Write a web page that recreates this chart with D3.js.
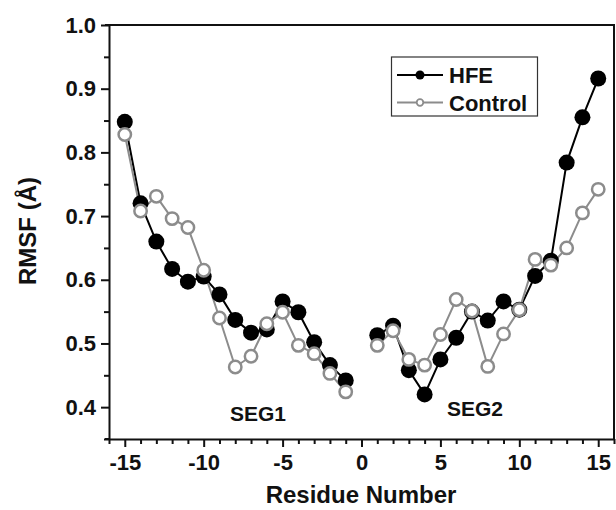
<!DOCTYPE html>
<html>
<head>
<meta charset="utf-8">
<script src="https://cdn.jsdelivr.net/npm/d3@7"></script>
<style>
  body { margin: 0; background: #fff; }
  text { font-family: "Liberation Sans", Arial, sans-serif; font-weight: bold; fill: #111; }
</style>
</head>
<body>
<svg width="616" height="510"></svg>
<script>
// residue numbers for the two segments (no residue 0)
var seg1Res = [-15, -14, -13, -12, -11, -10, -9, -8, -7, -6, -5, -4, -3, -2, -1];
var seg2Res = [1, 2, 3, 4, 5, 6, 7, 8, 9, 10, 11, 12, 13, 14, 15];

var hfeSeg1 = [0.848, 0.720, 0.660, 0.617, 0.597, 0.605, 0.577, 0.537, 0.517, 0.522, 0.566, 0.549, 0.502, 0.466, 0.442];
var hfeSeg2 = [0.513, 0.528, 0.458, 0.420, 0.475, 0.509, 0.550, 0.536, 0.566, 0.553, 0.606, 0.630, 0.784, 0.855, 0.916];

var ctlSeg1 = [0.828, 0.708, 0.731, 0.696, 0.682, 0.615, 0.540, 0.463, 0.480, 0.531, 0.549, 0.497, 0.484, 0.453, 0.424];
var ctlSeg2 = [0.497, 0.520, 0.475, 0.466, 0.514, 0.569, 0.551, 0.464, 0.515, 0.553, 0.632, 0.623, 0.650, 0.705, 0.742];

var xTicks = [-15, -10, -5, 0, 5, 10, 15];
var yTicks = [0.4, 0.5, 0.6, 0.7, 0.8, 0.9, 1.0];

var svg = d3.select("svg");
var mLeft = 109, mRight = 614, mTop = 25, mBottom = 439;

var x = d3.scaleLinear().domain([-16, 16]).range([mLeft, mRight]);
var y = d3.scaleLinear().domain([0.35, 1.0]).range([mBottom, mTop]);

function pairs(res, vals) {
  return res.map(function(r, i) { return [r, vals[i]]; });
}

// frame: top and right plain lines
svg.append("path")
   .attr("d", "M" + (mLeft - 4) + "," + mTop + "H" + mRight + "V" + mBottom)
   .attr("fill", "none")
   .attr("stroke", "#111")
   .attr("stroke-width", 2);

// minor ticks first
var xMinor = d3.range(-16, 17, 1).filter(function(v) { return xTicks.indexOf(v) < 0; });
var yMinor = [0.35, 0.45, 0.55, 0.65, 0.75, 0.85, 0.95];

svg.append("g")
   .attr("transform", "translate(0," + mBottom + ")")
   .call(d3.axisBottom(x).tickValues(xMinor).tickSize(5).tickFormat(""))
   .call(function(g) { g.select(".domain").remove(); });

svg.append("g")
   .attr("transform", "translate(" + mLeft + ",0)")
   .call(d3.axisLeft(y).tickValues(yMinor).tickSize(5).tickFormat(""))
   .call(function(g) { g.select(".domain").remove(); });

var xAxis = svg.append("g")
   .attr("transform", "translate(0," + mBottom + ")")
   .call(d3.axisBottom(x).tickValues(xTicks).tickSize(8).tickPadding(7).tickSizeOuter(0)
         .tickFormat(function(d) { return String(d); }));

var yAxis = svg.append("g")
   .attr("transform", "translate(" + mLeft + ",0)")
   .call(d3.axisLeft(y).tickValues(yTicks).tickSize(8).tickPadding(5).tickSizeOuter(0)
         .tickFormat(function(d) { return d.toFixed(1); }));

svg.selectAll(".tick line").attr("stroke", "#111").attr("stroke-width", 2);
svg.selectAll(".domain").attr("stroke", "#111").attr("stroke-width", 2);
xAxis.selectAll("text").style("font-size", "22px").attr("fill", "#111");
yAxis.selectAll("text").style("font-size", "22px").attr("fill", "#111");

// extend x axis line a little to the left like the original
svg.append("line")
   .attr("x1", mLeft - 4).attr("x2", mLeft)
   .attr("y1", mBottom).attr("y2", mBottom)
   .attr("stroke", "#111").attr("stroke-width", 2);

var line = d3.line()
   .x(function(d) { return x(d[0]); })
   .y(function(d) { return y(d[1]); });

var series = [
  { name: "HFE", segs: [pairs(seg1Res, hfeSeg1), pairs(seg2Res, hfeSeg2)], color: "#000", fill: "#000", r: 8, sw: 0 },
  { name: "Control", segs: [pairs(seg1Res, ctlSeg1), pairs(seg2Res, ctlSeg2)], color: "#8c8c8c", fill: "#fff", r: 6.2, sw: 2.5 }
];

// lines under all markers
series.forEach(function(s) {
  s.segs.forEach(function(seg) {
    svg.append("path")
       .datum(seg)
       .attr("d", line)
       .attr("fill", "none")
       .attr("stroke", s.color)
       .attr("stroke-width", 2);
  });
});

series.forEach(function(s) {
  s.segs.forEach(function(seg) {
    svg.append("g").selectAll("circle")
       .data(seg)
       .enter()
       .append("circle")
       .attr("cx", function(d) { return x(d[0]); })
       .attr("cy", function(d) { return y(d[1]); })
       .attr("r", s.r)
       .attr("fill", s.fill)
       .attr("stroke", s.sw ? s.color : "none")
       .attr("stroke-width", s.sw);
  });
});

// segment labels
svg.append("text").attr("x", 258).attr("y", 421).attr("text-anchor", "middle")
   .style("font-size", "21px").text("SEG1");
svg.append("text").attr("x", 475).attr("y", 416).attr("text-anchor", "middle")
   .style("font-size", "21px").text("SEG2");

// legend
var lg = svg.append("g");
lg.append("rect")
  .attr("x", 391.5).attr("y", 57).attr("width", 146).attr("height", 59)
  .attr("fill", "#fff").attr("stroke", "#333").attr("stroke-width", 1.2);

series.forEach(function(s, i) {
  var ly = 75 + i * 27.5;
  lg.append("line").attr("x1", 397).attr("x2", 443).attr("y1", ly).attr("y2", ly)
    .attr("stroke", s.color).attr("stroke-width", 2);
  lg.append("circle").attr("cx", 420).attr("cy", ly)
    .attr("r", i === 0 ? 4.5 : 3.3)
    .attr("fill", s.fill)
    .attr("stroke", s.sw ? s.color : "none")
    .attr("stroke-width", 1.8);
  lg.append("text").attr("x", 449).attr("y", ly + 8)
    .style("font-size", "22px").text(s.name);
});

// axis titles
svg.append("text")
   .attr("x", 361).attr("y", 503)
   .attr("text-anchor", "middle")
   .style("font-size", "24px")
   .text("Residue Number");

svg.append("text")
   .attr("transform", "translate(36,231) rotate(-90)")
   .attr("text-anchor", "middle")
   .style("font-size", "24px")
   .text("RMSF (Å)");
</script>
</body>
</html>
